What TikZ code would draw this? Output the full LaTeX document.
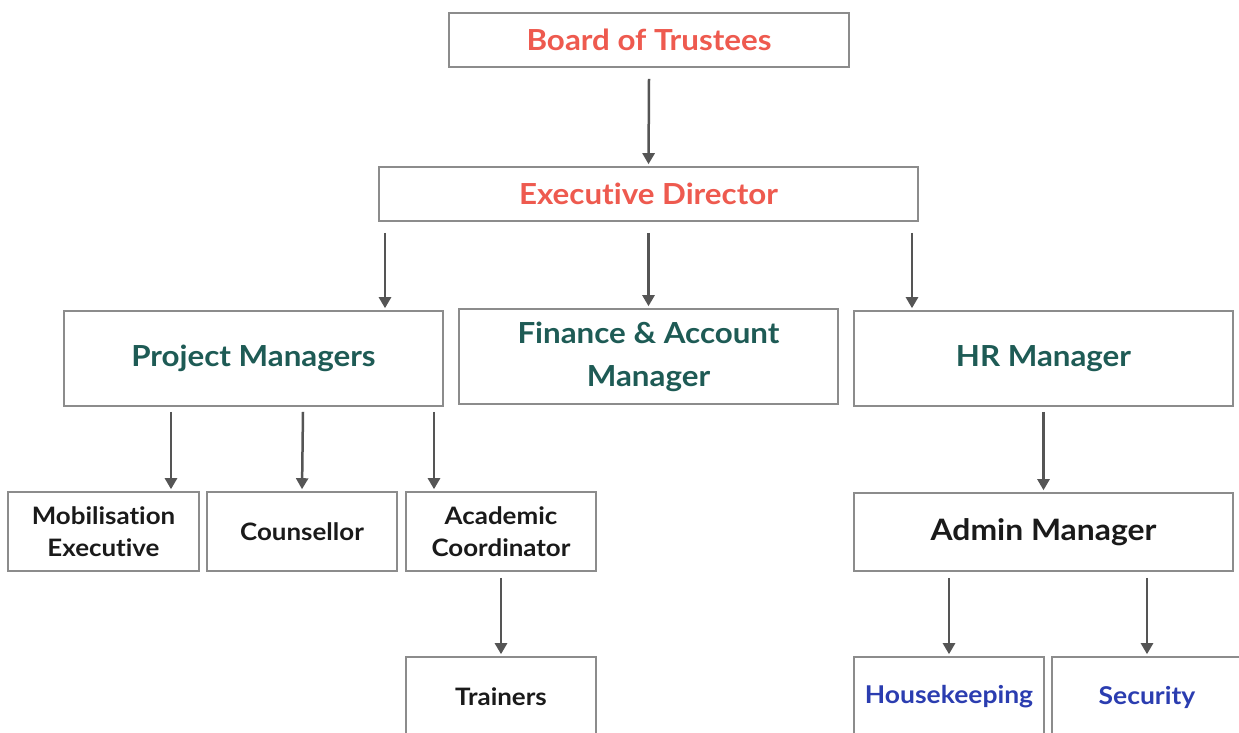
\documentclass[tikz,border=0pt]{standalone}
\usepackage{fontspec}
\setmainfont{Lato}[FakeStretch=1.08, Ligatures={NoCommon,NoRare}]
\usetikzlibrary{arrows.meta}
\definecolor{boardred}{HTML}{EE5A4F}
\definecolor{mgrteal}{HTML}{1E5B55}
\definecolor{staffblue}{HTML}{2B3DB0}
\definecolor{boxgray}{HTML}{8C8C8C}
\definecolor{arrowgray}{HTML}{555555}
\definecolor{inkblack}{HTML}{1A1A1A}
\tikzset{
  orgbox/.style={draw=boxgray, line width=1.6pt, fill=white, align=center,
    inner sep=0pt, font=\bfseries},
  toptier/.style={orgbox, text=boardred, font=\bfseries\fontsize{29}{32}\selectfont},
  midtier/.style={orgbox, text=mgrteal, font=\bfseries\fontsize{29}{43}\selectfont},
  lowtier/.style={orgbox, text=inkblack, font=\bfseries\fontsize{24}{32}\selectfont},
  admintier/.style={orgbox, text=inkblack, font=\bfseries\fontsize{29.5}{32}\selectfont},
  lowlabel/.style={inner sep=0pt, text=inkblack, font=\bfseries\fontsize{24}{28}\selectfont},
  servlabel/.style={inner sep=0pt, text=staffblue, font=\bfseries\fontsize{24.5}{28}\selectfont},
  link/.style={draw=arrowgray, line width=2.5pt,
    -{Triangle[width=12pt,length=11pt]}, shorten >=2pt}
}
\begin{document}
\begin{tikzpicture}[x=1pt,y=-1pt]
\clip (0,0) rectangle (1239,733);
\fill[white] (0,0) rectangle (1239,733);

% top tiers
\node[toptier, minimum width=400pt, minimum height=54pt] (board) at (649,40) {Board of Trustees};
\node[toptier, minimum width=539pt, minimum height=54pt] (exec) at (648.5,194) {Executive Director};

% managers
\node[midtier, minimum width=379pt, minimum height=95pt] (pm) at (253.5,358.5) {Project Managers};
\node[midtier, minimum width=379pt, minimum height=95pt] (fin) at (648.5,356.5) {Finance \& Account\\Manager};
\node[midtier, minimum width=379pt, minimum height=95pt] (hr) at (1043.5,358.5) {HR Manager};

% project staff
\node[lowtier, minimum width=191pt, minimum height=79pt] (mob) at (103.5,531.5) {Mobilisation\\Executive};
\node[lowtier, minimum width=190pt, minimum height=79pt] (couns) at (302,531.5) {Counsellor};
\node[lowtier, minimum width=190pt, minimum height=79pt] (acad) at (501,531.5) {Academic\\Coordinator};
\node[orgbox, minimum width=190pt, minimum height=90pt] (train) at (501,702) {};
\node[lowlabel] (traintxt) at (501,697) {Trainers};

% administration
\node[admintier, minimum width=379pt, minimum height=78pt] (admin) at (1043.5,532) {Admin Manager};
\node[orgbox, minimum width=190pt, minimum height=90pt] (house) at (949,702) {};
\node[servlabel] (housetxt) at (949,697) {Housekeeping};
\node[orgbox, minimum width=200pt, minimum height=90pt] (sec) at (1152,702) {};
\node[servlabel] (sectxt) at (1147,697) {Security};

% reporting lines
\draw[link] ([yshift=-11pt]board.south) -- (exec.north);
\draw[link] ([xshift=-263.5pt,yshift=-11pt]exec.south) -- ([xshift=131.5pt]pm.north);
\draw[link] ([yshift=-11pt]exec.south) -- (fin.north);
\draw[link] ([xshift=263.5pt,yshift=-11pt]exec.south) -- ([xshift=-131.5pt]hr.north);

\draw[link] ([xshift=-82.5pt,yshift=-5pt]pm.south) -- ([xshift=67.5pt]mob.north);
\draw[link] ([xshift=49.5pt,yshift=-5pt]pm.south) -- (couns.north);
\draw[link] ([xshift=180.5pt,yshift=-5pt]pm.south) -- ([xshift=-67pt]acad.north);
\draw[link] ([yshift=-6pt]acad.south) -- (train.north);

\draw[link] ([yshift=-5pt]hr.south) -- (admin.north);
\draw[link] ([xshift=-94.5pt,yshift=-6pt]admin.south) -- (house.north);
\draw[link] ([xshift=103.5pt,yshift=-6pt]admin.south) -- ([xshift=-5pt]sec.north);
\end{tikzpicture}
\end{document}
